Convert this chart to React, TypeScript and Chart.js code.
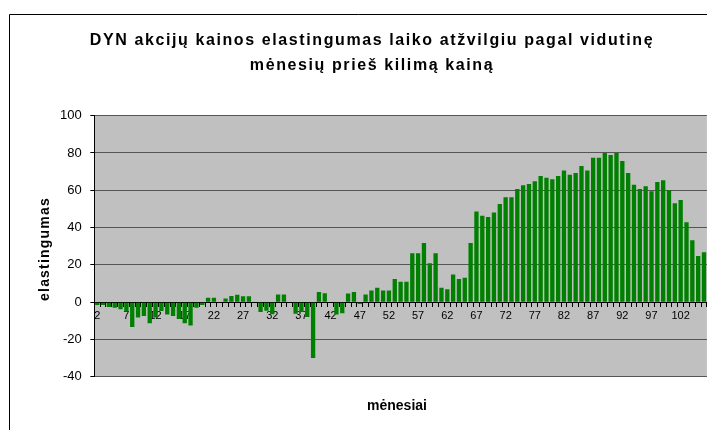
import React, { useEffect, useRef } from 'react';
import { Chart, registerables } from 'chart.js';

Chart.register(...registerables);

const titleLines = [
  'DYN akcijų kainos elastingumas laiko atžvilgiu pagal vidutinę',
  'mėnesių prieš kilimą kainą',
];
const xTitle = 'mėnesiai';
const yTitle = 'elastingumas';

// months 2..106
const months = Array.from({ length: 105 }, (_, i) => String(i + 2));

const elasticity = [
  -1.5, -1.5, -2.6, -3, -3.8, -5, -13.4, -8.3, -7.5, -11.3,
  -8.3, -4.7, -6.6, -7.5, -9, -11.3, -12.5, -3, -1.5, 2.4,
  2.4, 0.2, 1.9, 3.3, 4, 3.2, 3.2, 0, -5.3, -4.6,
  -6.5, 4.1, 4.1, 0, -6.2, -5.3, -8, -30, 5.5, 4.8,
  0, -6.7, -6, 4.6, 5.5, -1, 4.1, 6.2, 7.7, 6.3,
  6.3, 12.4, 10.9, 10.9, 26.2, 26.2, 31.7, 20.8, 26.2, 7.7,
  6.9, 14.8, 12.4, 13.1, 31.7, 48.6, 46.4, 45.7, 48.1, 52.6,
  56.3, 56.3, 60.7, 62.7, 63.4, 64.8, 67.6, 66.7, 65.9, 67.6,
  70.6, 68.3, 69.2, 73, 70.6, 77.5, 77.5, 80, 78.9, 80,
  75.7, 69.2, 62.9, 60.7, 62.2, 59.5, 64.5, 65.4, 60, 53,
  54.8, 42.9, 33.2, 24.7, 26.8,
];

const yMin = -40;
const yMax = 100;
const yStep = 20;
const labelEvery = 5;

const FONT = '"Liberation Sans", Arial, sans-serif';

export default function App() {
  const ref = useRef<HTMLCanvasElement>(null);

  useEffect(() => {
    if (!ref.current) return;
    const bg = {
      id: 'bgFill',
      beforeDraw(chart: any) {
        const { ctx, chartArea: a } = chart;
        ctx.save();
        ctx.fillStyle = '#c0c0c0';
        ctx.fillRect(a.left, a.top, a.right - a.left, a.bottom - a.top);
        ctx.restore();
      },
    };
    const deco = {
      id: 'deco',
      afterDraw(chart: any) {
        const ctx = chart.ctx;
        ctx.save();
        ctx.strokeStyle = '#000';
        ctx.lineWidth = 1;
        ctx.beginPath();
        ctx.moveTo(9.5, 431);
        ctx.lineTo(9.5, 14.5);
        ctx.lineTo(708, 14.5);
        ctx.stroke();
        ctx.fillStyle = '#000';
        ctx.textAlign = 'center';
        ctx.textBaseline = 'alphabetic';
        ctx.font = `bold 16px ${FONT}`;
        (ctx as any).letterSpacing = '1.6px';
        ctx.fillText(titleLines[0], 372, 44.7);
        ctx.fillText(titleLines[1], 372, 69.7);
        (ctx as any).letterSpacing = '0px';
        ctx.font = `bold 14px ${FONT}`;
        ctx.fillText(xTitle, 397, 409.5);
        (ctx as any).letterSpacing = '1.2px';
        ctx.translate(49, 249);
        ctx.rotate(-Math.PI / 2);
        ctx.fillText(yTitle, 0, 0);
        ctx.restore();
      },
    };

    const chart = new Chart(ref.current, {
      type: 'bar',
      data: {
        labels: months,
        datasets: [
          {
            data: elasticity,
            backgroundColor: '#008000',
            borderWidth: 0,
            barPercentage: 0.74,
            categoryPercentage: 1,
          },
        ],
      },
      options: {
        animation: false,
        responsive: false,
        devicePixelRatio: 1,
        layout: { padding: { top: 115.7, bottom: 53.3, left: 0, right: 0 } },
        plugins: {
          legend: { display: false },
          tooltip: { enabled: false },
          title: { display: false },
        },
        scales: {
          x: {
            position: { y: 0 } as any,
            offset: true,
            afterFit: (s: any) => {
              s.height = 0;
            },
            grid: {
              drawOnChartArea: false,
              drawTicks: true,
              tickLength: 4,
              color: '#000',
              offset: true,
            },
            border: { display: true, color: '#000' },
            ticks: {
              autoSkip: false,
              maxRotation: 0,
              minRotation: 0,
              padding: 3,
              color: '#000',
              font: { family: FONT, size: 11 },
              callback: (_v: any, i: number) => (i % labelEvery === 0 ? months[i] : ''),
            },
          },
          y: {
            min: yMin,
            max: yMax,
            afterFit: (s: any) => {
              s.width = 94.3;
            },
            ticks: {
              stepSize: yStep,
              padding: 8.5,
              color: '#000',
              font: { family: FONT, size: 13 },
            },
            grid: {
              color: (c: any) => (c.tick && c.tick.value === 0 ? '#000' : '#555'),
              tickColor: '#000',
              tickLength: 4,
            },
            border: { display: true, color: '#000' },
          },
        },
      },
      plugins: [bg, deco],
    });
    return () => chart.destroy();
  }, []);

  return (
    <div style={{ position: 'absolute', left: 0, top: 0, width: 707, height: 430, background: '#fff' }}>
      <canvas ref={ref} width={707} height={430} style={{ display: 'block', width: 707, height: 430 }} />
    </div>
  );
}
